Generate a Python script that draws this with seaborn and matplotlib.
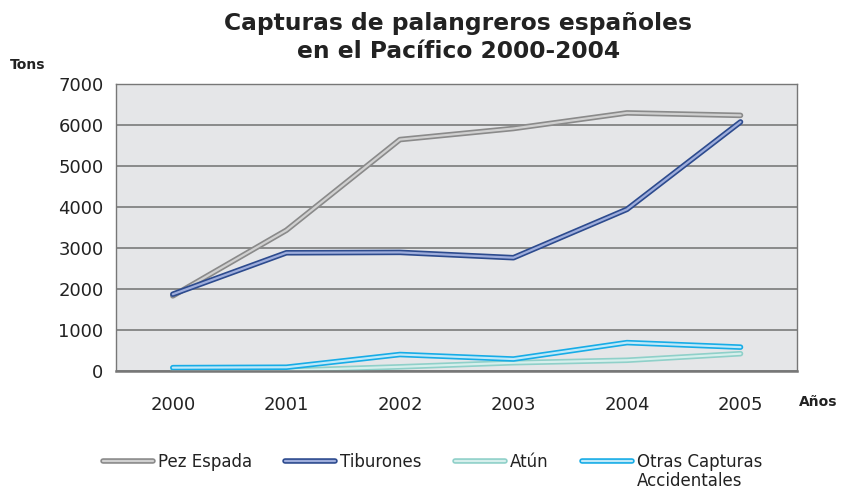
import pandas as pd
import seaborn as sns
import matplotlib
import matplotlib.pyplot as plt
import matplotlib.patheffects as pe
import numpy as np

sns.set_style('white')
matplotlib.rcParams['font.family'] = ['DejaVu Sans']

years = [2000, 2001, 2002, 2003, 2004, 2005]
pez_espada = [1830, 3430, 5640, 5910, 6290, 6230]
tiburones = [1870, 2880, 2890, 2760, 3940, 6070]
atun = [0, 10, 100, 200, 260, 420]
otras = [80, 90, 400, 290, 690, 580]
series_names = ['Pez Espada', 'Tiburones', 'Atún', 'Otras Capturas']

data = pd.DataFrame({
    'year': years * 4,
    'tons': pez_espada + tiburones + atun + otras,
    'serie': sum([[n] * len(years) for n in series_names], []),
})

outer = ['#8a8a8a', '#2d4b8e', '#8fd0c9', '#17ace6']
inner = ['#d0d0d0', '#9eaddc', '#d6efec', '#bfe9f9']

fig = plt.figure(figsize=(8.41, 4.9), dpi=100)
ax = fig.add_axes([0.138, 0.243, 0.81, 0.586])
ax.set_facecolor('#e5e6e8')

sns.lineplot(data=data, x='year', y='tons', hue='serie', palette=inner,
             linewidth=1.6, ax=ax, legend=False)
for line, oc in zip(ax.lines, outer):
    line.set_path_effects([pe.Stroke(linewidth=4, foreground=oc), pe.Normal()])

ax.set_xlim(1999.5, 2005.5)
ax.set_ylim(0, 7000)
ax.set_yticks(range(0, 7001, 1000))
ax.set_xticks(years)
ax.set_xticks(np.arange(1999.5, 2005.6, 1), minor=True)
ax.tick_params(axis='x', which='major', length=0, pad=18, labelsize=13, labelcolor='#222222')
ax.tick_params(axis='x', which='minor', length=5, color='#888888', direction='out')
ax.tick_params(axis='y', length=5, color='#666666', labelsize=13, labelcolor='#222222', pad=4)
ax.grid(axis='y', color='#7a7a7a', linewidth=1.2)
ax.set_axisbelow(True)
for s in ax.spines.values():
    s.set_color('#777777')
    s.set_linewidth(1.0)
ax.spines['bottom'].set_linewidth(1.8)
ax.set_xlabel('')
ax.set_ylabel('')

fig.text(0.545, 0.975, 'Capturas de palangreros españoles\nen el Pacífico 2000-2004',
         ha='center', va='top', fontsize=16.8, fontweight='bold', color='#222222',
         linespacing=1.25)
fig.text(0.012, 0.86, 'Tons', fontsize=10, fontweight='bold', color='#222222')
fig.text(0.95, 0.172, 'Años', fontsize=10, fontweight='bold', color='#222222')

handles = []
for oc, ic in zip(outer, inner):
    h, = ax.plot([], [], color=ic, linewidth=1.6,
                 path_effects=[pe.Stroke(linewidth=4, foreground=oc), pe.Normal()])
    handles.append(h)
leg = fig.legend(handles, series_names, loc='center left', bbox_to_anchor=(0.122, 0.058),
                 ncol=4, frameon=False, fontsize=12, handlelength=3, handletextpad=0.3,
                 columnspacing=2.0, borderaxespad=0, borderpad=0)
for t in leg.get_texts():
    t.set_color('#222222')
fig.canvas.draw()
last = leg.get_texts()[-1].get_window_extent().transformed(fig.transFigure.inverted())
fig.text(last.x0, last.y0 - 0.003, 'Accidentales', fontsize=12, color='#222222',
         ha='left', va='top')

fig.savefig('out.png', dpi=100)
